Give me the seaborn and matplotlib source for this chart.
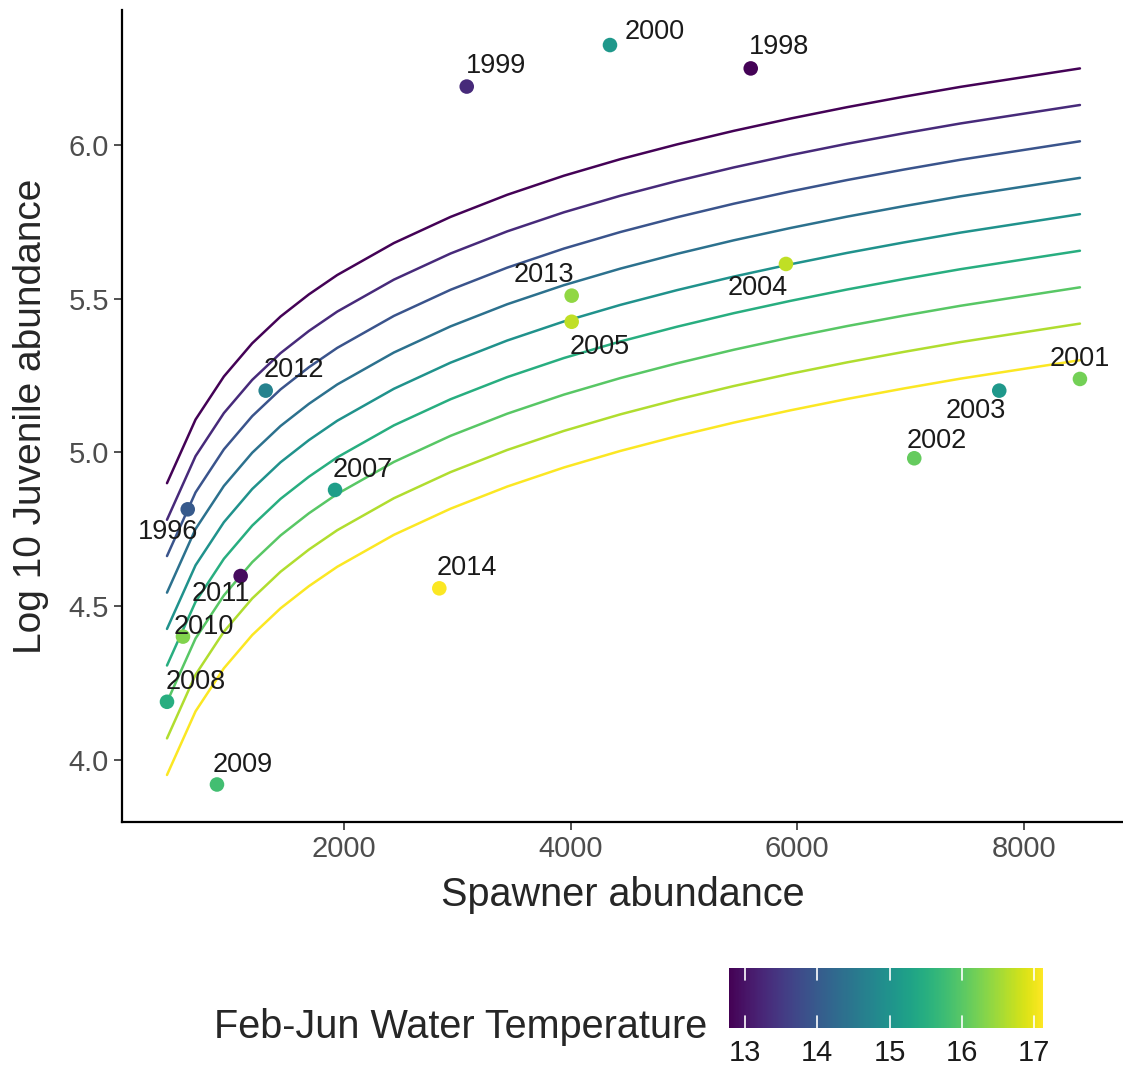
import numpy as np
import pandas as pd
import matplotlib
matplotlib.use("Agg")
import matplotlib.pyplot as plt
import seaborn as sns

# observed years
years = [1996, 1998, 1999, 2000, 2001, 2002, 2003, 2004, 2005,
         2007, 2008, 2009, 2010, 2011, 2012, 2013, 2014]
spawners = [621, 5589, 3083, 4347, 8494, 7032, 7782, 5900, 4009,
            1921, 438, 879, 579, 1088, 1309, 4009, 2841]
log_juv = [4.815, 6.249, 6.190, 6.325, 5.239, 4.981, 5.201, 5.613, 5.425,
           4.878, 4.189, 3.92, 4.401, 4.598, 5.201, 5.510, 4.558]
water_temp = [14.0, 12.8, 13.3, 15.1, 16.2, 16.1, 15.1, 16.7, 16.7,
              15.2, 15.5, 15.8, 16.3, 12.9, 14.7, 16.4, 17.1]

# fitted curves, one per temperature
curve_x = [438, 690, 940, 1190, 1440, 1690, 1940, 2440, 2940, 3440,
           3940, 4440, 4940, 5440, 5940, 6440, 6940, 7440, 8494]
curve_temp = [12.8, 13.3, 13.9, 14.4, 15.0, 15.5, 16.0, 16.6, 17.1]
curve_y = [
    [4.900, 5.107, 5.247, 5.355, 5.442, 5.514, 5.577, 5.681, 5.766, 5.838,
     5.900, 5.954, 6.002, 6.046, 6.086, 6.123, 6.157, 6.189, 6.249],
    [4.781, 4.988, 5.128, 5.236, 5.323, 5.395, 5.458, 5.562, 5.647, 5.719,
     5.781, 5.835, 5.883, 5.927, 5.967, 6.004, 6.038, 6.070, 6.130],
    [4.663, 4.870, 5.010, 5.118, 5.205, 5.277, 5.340, 5.444, 5.529, 5.601,
     5.663, 5.717, 5.765, 5.809, 5.849, 5.886, 5.920, 5.952, 6.012],
    [4.544, 4.751, 4.891, 4.999, 5.086, 5.158, 5.221, 5.325, 5.410, 5.482,
     5.544, 5.598, 5.646, 5.690, 5.730, 5.767, 5.801, 5.833, 5.893],
    [4.426, 4.633, 4.773, 4.881, 4.968, 5.040, 5.103, 5.207, 5.292, 5.364,
     5.426, 5.480, 5.528, 5.572, 5.612, 5.649, 5.683, 5.715, 5.775],
    [4.307, 4.514, 4.654, 4.762, 4.849, 4.921, 4.984, 5.088, 5.173, 5.245,
     5.307, 5.361, 5.409, 5.453, 5.493, 5.530, 5.564, 5.596, 5.656],
    [4.188, 4.395, 4.535, 4.643, 4.730, 4.802, 4.865, 4.969, 5.054, 5.126,
     5.188, 5.242, 5.290, 5.334, 5.374, 5.411, 5.445, 5.477, 5.537],
    [4.070, 4.277, 4.417, 4.525, 4.612, 4.684, 4.747, 4.851, 4.936, 5.008,
     5.070, 5.124, 5.172, 5.216, 5.256, 5.293, 5.327, 5.359, 5.419],
    [3.951, 4.158, 4.298, 4.406, 4.493, 4.565, 4.628, 4.732, 4.817, 4.889,
     4.951, 5.005, 5.053, 5.097, 5.137, 5.174, 5.208, 5.240, 5.300],
]

temp_ticks = [13, 14, 15, 16, 17]

# label offsets in pixels (dx right, dy up)
label_offsets = {
    1996: (-20, -23), 1998: (28, 21), 1999: (29, 21), 2000: (45, 13),
    2001: (0, 20), 2002: (22, 17), 2003: (-23, -20), 2004: (-28, -24),
    2005: (28, -25), 2007: (28, 20), 2008: (29, 20), 2009: (26, 19),
    2010: (21, 10), 2011: (-20, -18), 2012: (28, 21), 2013: (-28, 21),
    2014: (28, 20),
}

pts = pd.DataFrame({"year": years, "spawners": spawners,
                    "log_juv": log_juv, "temp": water_temp})
curves = pd.DataFrame(
    [(x, y, t) for t, ys in zip(curve_temp, curve_y) for x, y in zip(curve_x, ys)],
    columns=["spawners", "log_juv", "temp"])

sns.set_style("ticks")
plt.rcParams["font.family"] = ["Liberation Sans", "DejaVu Sans"]

tnorm = (12.78, 17.12)

fig = plt.figure(figsize=(11.23, 10.74), dpi=100)
ax = fig.add_axes([122 / 1123, 1 - 822 / 1074, 1001 / 1123, 812 / 1074])

sns.lineplot(data=curves, x="spawners", y="log_juv", hue="temp", units="temp",
             estimator=None, palette="viridis", hue_norm=tnorm, linewidth=1.8,
             legend=False, ax=ax)
sns.scatterplot(data=pts, x="spawners", y="log_juv", hue="temp",
                palette="viridis", hue_norm=tnorm, s=110, linewidth=0,
                legend=False, ax=ax, zorder=3)

for yr, xv, yv in zip(years, spawners, log_juv):
    dx, dy = label_offsets[yr]
    ax.annotate(str(yr), (xv, yv), xytext=(dx, dy), textcoords="offset pixels",
                ha="center", va="center", fontsize=19.5, color="#1a1a1a")

ax.set_xlim(41, 8874)
ax.set_ylim(3.798, 6.439)
ax.set_xticks([2000, 4000, 6000, 8000])
ax.set_yticks([4.0, 4.5, 5.0, 5.5, 6.0])
ax.set_yticklabels(["4.0", "4.5", "5.0", "5.5", "6.0"])
ax.tick_params(labelsize=21, labelcolor="#4d4d4d", length=6, width=1.2, color="#333333")
ax.set_xlabel("Spawner abundance", fontsize=28.5, labelpad=9)
ax.set_ylabel("Log 10 Juvenile abundance", fontsize=28, labelpad=14)
sns.despine(ax=ax)
for side in ["left", "bottom"]:
    ax.spines[side].set_linewidth(1.6)
    ax.spines[side].set_color("black")

# colour bar legend
cax = fig.add_axes([729 / 1123, 1 - 1028 / 1074, 314 / 1123, 60 / 1074])
sm = plt.cm.ScalarMappable(cmap="viridis", norm=plt.Normalize(*tnorm))
cb = fig.colorbar(sm, cax=cax, orientation="horizontal", ticks=temp_ticks)
cb.outline.set_visible(False)
cax.tick_params(length=0, labelsize=21, labelcolor="#1a1a1a", pad=8)
for t in temp_ticks:
    cax.axvline(t, ymin=0, ymax=0.2, color="white", linewidth=1.2)
    cax.axvline(t, ymin=0.8, ymax=1, color="white", linewidth=1.2)
fig.text(707 / 1123, 1 - 1027 / 1074, "Feb-Jun Water Temperature",
         ha="right", va="center", fontsize=28.5)

fig.savefig("out.png", dpi=100)
